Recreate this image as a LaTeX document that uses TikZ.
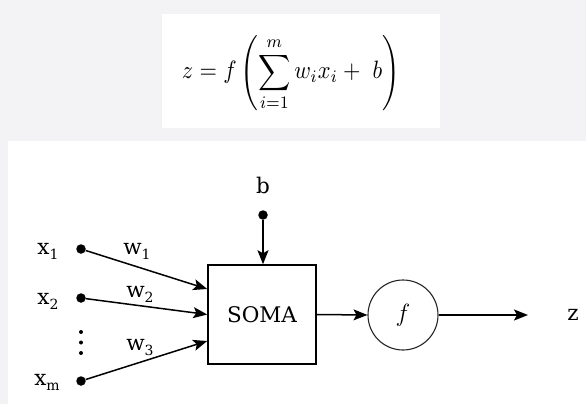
\documentclass[tikz,border=0pt]{standalone}
\usepackage[no-math]{fontspec}
\setmainfont{DejaVu Serif}
\usepackage{amsmath}
\usetikzlibrary{arrows.meta,calc}
\definecolor{bgc}{RGB}{243,243,245}
\newcommand{\sbs}[1]{\raisebox{-4.5pt}{\fontsize{14}{14}\selectfont #1}}
\begin{document}
\begin{tikzpicture}[x=1pt,y=-1pt,
  lbl/.style={font=\fontsize{21.5}{22}\selectfont, inner sep=0pt},
  dotn/.style={circle, fill=black, inner sep=0pt, minimum size=9.5pt},
  smalldot/.style={circle, fill=black, inner sep=0pt, minimum size=4pt},
  con/.style={line width=1.5pt, -{Stealth[length=14pt,width=11pt,inset=3pt]}},
  somabox/.style={draw, line width=1.5pt, minimum width=108pt, minimum height=99pt, inner sep=0pt},
  fcirc/.style={circle, draw=black!85, line width=1.1pt, minimum size=70pt, inner sep=0pt}]
\fill[bgc] (0,0) rectangle (586,404);
\fill[white] (162,14) rectangle (440,128);
\fill[white] (8,141) rectangle (586,404);
\useasboundingbox (0,0) rectangle (586,404);

\node[inner sep=0pt] (eq) at (291,73) {\resizebox*{218pt}{76pt}{$\displaystyle z = f\left(\sum_{i=1}^{m} w_i x_i +\ b\right)$}};

\node[lbl, anchor=base] (bl) at (263,193) {b};
\node[dotn] (bd) at (263,215) {};
\node[somabox, lbl] (soma) at (262,314.5) {SOMA};
\node[fcirc] (fc) at (403,315) {\fontsize{32}{32}\selectfont $f$};

\node[dotn] (x1d) at (81,249) {};
\node[dotn] (x2d) at (81,298) {};
\node[dotn] (xmd) at (81,381) {};
\node[smalldot] (vd1) at (81,332) {};
\node[smalldot] (vd2) at (81,342.5) {};
\node[smalldot] (vd3) at (81,353) {};

\node[lbl, anchor=mid] (x1l) at (48,252) {x\sbs{1}};
\node[lbl, anchor=mid] (x2l) at (48,302) {x\sbs{2}};
\node[lbl, anchor=mid] (xml) at (47,383) {x\sbs{m}};

\node[lbl, anchor=mid] (w1l) at (137,252) {w\sbs{1}};
\node[lbl, anchor=mid] (w2l) at (140,295) {w\sbs{2}};
\node[lbl, anchor=mid] (w3l) at (140,348) {w\sbs{3}};

\node[lbl, anchor=mid] (zl) at (573,318) {z};
\coordinate (zend) at (528,315);

\draw[con] (bd) -- (bd |- soma.north);
\draw[con] (x1d) -- ($(soma.west)+(0,-25.5)$);
\draw[con] (x2d) -- (soma.west);
\draw[con] (xmd) -- ($(soma.west)+(0,26.5)$);
\draw[con] (soma.east) -- (fc.west);
\draw[con] (fc.east) -- (zend);
\end{tikzpicture}
\end{document}
